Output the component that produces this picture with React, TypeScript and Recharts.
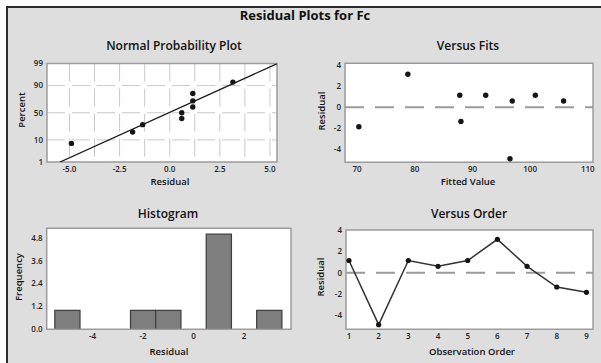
import React from 'react';
import {
  ScatterChart,
  ComposedChart,
  Scatter,
  Line,
  XAxis,
  YAxis,
  CartesianGrid,
  ReferenceLine,
  ReferenceArea,
} from 'recharts';

// ---------------- data ----------------
const observationOrder = [1, 2, 3, 4, 5, 6, 7, 8, 9];
const residuals = [1.15, -4.9, 1.15, 0.6, 1.15, 3.15, 0.6, -1.35, -1.85];
const fittedValues = [87.8, 96.5, 92.3, 96.9, 100.9, 78.8, 105.8, 88.0, 70.3];

// normal probability plot (percent of each sorted residual)
const normalPercent = [7.4, 18.1, 28.7, 39.4, 50, 60.6, 71.3, 81.9, 92.6];
const normalFitMean = -0.05;
const normalFitSigma = 2.33;
const percentTicks = [1, 10, 50, 90, 99];
const percentGrid = [10, 50, 90];
const npResidualTicks = [-5, -2.5, 0, 2.5, 5];
const npResidualGrid = [-5, -3.75, -2.5, -1.25, 0, 1.25, 2.5, 3.75, 5];

// histogram
const binMidpoints = [-5, -4, -3, -2, -1, 0, 1, 2, 3];
const binCounts = [1, 0, 0, 1, 1, 0, 5, 0, 1];
const histXTicks = [-4, -2, 0, 2];
const histYTicks = [0, 1.2, 2.4, 3.6, 4.8];

// versus fits / order
const fitsTicks = [70, 80, 90, 100, 110];
const residualTicks = [-4, -2, 0, 2, 4];

// ---------------- helpers ----------------
function probit(p: number): number {
  const a = [-3.969683028665376e1, 2.209460984245205e2, -2.759285104469687e2, 1.38357751867269e2, -3.066479806614716e1, 2.506628277459239];
  const b = [-5.447609879822406e1, 1.615858368580409e2, -1.556989798598866e2, 6.680131188771972e1, -1.328068155288572e1];
  const c = [-7.784894002430293e-3, -3.223964580411365e-1, -2.400758277161838, -2.549732539343734, 4.374664141464968, 2.938163982698783];
  const d = [7.784695709041462e-3, 3.224671290700398e-1, 2.445134137142996, 3.754408661907416];
  const plow = 0.02425;
  const phigh = 1 - plow;
  if (p < plow) {
    const q = Math.sqrt(-2 * Math.log(p));
    return (((((c[0] * q + c[1]) * q + c[2]) * q + c[3]) * q + c[4]) * q + c[5]) / ((((d[0] * q + d[1]) * q + d[2]) * q + d[3]) * q + 1);
  }
  if (p <= phigh) {
    const q = p - 0.5;
    const r = q * q;
    return ((((((a[0] * r + a[1]) * r + a[2]) * r + a[3]) * r + a[4]) * r + a[5]) * q) / (((((b[0] * r + b[1]) * r + b[2]) * r + b[3]) * r + b[4]) * r + 1);
  }
  const q = Math.sqrt(-2 * Math.log(1 - p));
  return -(((((c[0] * q + c[1]) * q + c[2]) * q + c[3]) * q + c[4]) * q + c[5]) / ((((d[0] * q + d[1]) * q + d[2]) * q + d[3]) * q + 1);
}

const sortedResiduals = [...residuals].sort((x, y) => x - y);
const npData = sortedResiduals.map((r, i) => ({ x: r, y: probit(normalPercent[i] / 100) }));
const zLo = probit(0.01);
const zHi = probit(0.99);
const npFitSegment = [
  { x: normalFitMean + normalFitSigma * zLo, y: zLo },
  { x: normalFitMean + normalFitSigma * zHi, y: zHi },
];
const percentTickZ = percentTicks.map((p) => probit(p / 100));
const percentGridZ = percentGrid.map((p) => probit(p / 100));
const fitsData = fittedValues.map((f, i) => ({ x: f, y: residuals[i] }));
const orderData = observationOrder.map((o, i) => ({ x: o, y: residuals[i] }));
const bins = binMidpoints.map((m, i) => ({ lo: m - 0.5, hi: m + 0.5, count: binCounts[i] })).filter((b) => b.count > 0);

// ---------------- layout ----------------
const W = 601;
const H = 363;
const YW = 30;
const XH = 20;
const FONT = '"Open Sans", "Noto Sans", "DejaVu Sans", sans-serif';
const FRAME = '#9c9c9c';
const tickStyle = { fontSize: 8, fill: '#222', fontFamily: FONT, fontWeight: 600 };

type Box = { x0: number; y0: number; x1: number; y1: number };
const marginFor = (b: Box) => ({ left: b.x0 - YW, top: b.y0, right: W - b.x1, bottom: H - b.y1 - XH });

const npBox: Box = { x0: 47, y0: 63.5, x1: 277, y1: 162 };
const fitsBox: Box = { x0: 345, y0: 63.3, x1: 593, y1: 162.3 };
const histBox: Box = { x0: 46.7, y0: 228.3, x1: 291, y1: 329.3 };
const orderBox: Box = { x0: 346, y0: 230, x1: 593, y1: 329.3 };

const npXDomain: [number, number] = [-6.12, 5.35];
const fitsXDomain: [number, number] = [67.9, 110.9];
const fitsYDomain: [number, number] = [-5.24, 4.19];
const histXDomain: [number, number] = [-5.82, 3.86];
const histYDomain: [number, number] = [0, 5.31];
const orderXDomain: [number, number] = [0.9, 9.22];
const orderYDomain: [number, number] = [-5.34, 4.03];

const Dot = (p: any) => <circle cx={p.cx} cy={p.cy} r={2.7} fill="#151515" />;

const Txt = ({ x, y, size, weight, rotate, children }: any) => (
  <div
    style={{
      position: 'absolute',
      left: x,
      top: y,
      transform: `translate(-50%, -50%)${rotate ? ' rotate(-90deg)' : ''}`,
      fontFamily: FONT,
      fontSize: size,
      fontWeight: weight,
      color: '#111',
      whiteSpace: 'nowrap',
      lineHeight: 1,
    }}
  >
    {children}
  </div>
);

const Layer = ({ children }: any) => (
  <div style={{ position: 'absolute', left: 0, top: 0, width: W, height: H }}>{children}</div>
);

const Frame = ({ xd, yd }: { xd: [number, number]; yd: [number, number] }) => (
  <ReferenceArea x1={xd[0]} x2={xd[1]} y1={yd[0]} y2={yd[1]} fill="none" fillOpacity={0} stroke={FRAME} strokeWidth={1.5} ifOverflow="visible" />
);

export default function App() {
  return (
    <div style={{ position: 'absolute', left: 0, top: 0, width: W, height: H, background: '#fbfbfb', overflow: 'hidden' }}>
      <div
        style={{
          position: 'absolute',
          left: 6,
          top: 6,
          width: W - 6,
          height: H - 6,
          background: '#dedede',
          borderLeft: '2px solid #2b2b2b',
          borderTop: '2px solid #2b2b2b',
          boxSizing: 'border-box',
        }}
      />

      {/* Normal probability plot */}
      <Layer>
        <ScatterChart width={W} height={H} margin={marginFor(npBox)}>
          <CartesianGrid
            fill="#ffffff"
            stroke="#c9c9c9"
            strokeDasharray="18 7"
            verticalValues={npResidualGrid}
            horizontalValues={percentGridZ}
          />
          <XAxis type="number" dataKey="x" domain={npXDomain} allowDataOverflow ticks={npResidualTicks} tickFormatter={(v: number) => v.toFixed(1)} tick={tickStyle} tickLine={false} axisLine={false} tickSize={2} tickMargin={2} height={XH} interval={0} />
          <YAxis type="number" dataKey="y" domain={[zLo, zHi]} allowDataOverflow ticks={percentTickZ} tickFormatter={(v: number) => String(percentTicks[percentTickZ.findIndex((z) => Math.abs(z - v) < 1e-6)] ?? '')} tick={tickStyle} tickLine={false} axisLine={false} tickSize={2} tickMargin={2} width={YW} interval={0} />
          <ReferenceLine segment={npFitSegment} stroke="#1a1a1a" strokeWidth={1.3} ifOverflow="hidden" />
          <Scatter data={npData} shape={Dot} isAnimationActive={false} />
          <Frame xd={npXDomain} yd={[zLo, zHi]} />
        </ScatterChart>
      </Layer>

      {/* Versus fits */}
      <Layer>
        <ScatterChart width={W} height={H} margin={marginFor(fitsBox)}>
          <CartesianGrid fill="#ffffff" horizontal={false} vertical={false} />
          <XAxis type="number" dataKey="x" domain={fitsXDomain} allowDataOverflow ticks={fitsTicks} tick={tickStyle} tickLine={false} axisLine={false} tickSize={2} tickMargin={2} height={XH} interval={0} />
          <YAxis type="number" dataKey="y" domain={fitsYDomain} allowDataOverflow ticks={residualTicks} tick={tickStyle} tickLine={false} axisLine={false} tickSize={2} tickMargin={2} width={YW} interval={0} />
          <ReferenceLine y={0} stroke="#9a9a9a" strokeWidth={2} strokeDasharray="19 11" />
          <Scatter data={fitsData} shape={Dot} isAnimationActive={false} />
          <Frame xd={fitsXDomain} yd={fitsYDomain} />
        </ScatterChart>
      </Layer>

      {/* Histogram */}
      <Layer>
        <ScatterChart width={W} height={H} margin={marginFor(histBox)}>
          <CartesianGrid fill="#ffffff" horizontal={false} vertical={false} />
          <XAxis type="number" dataKey="x" domain={histXDomain} allowDataOverflow ticks={histXTicks} tick={tickStyle} tickLine={false} axisLine={false} tickSize={2} tickMargin={2} height={XH} interval={0} />
          <YAxis type="number" dataKey="y" domain={histYDomain} allowDataOverflow ticks={histYTicks} tickFormatter={(v: number) => v.toFixed(1)} tick={tickStyle} tickLine={false} axisLine={false} tickSize={2} tickMargin={2} width={YW} interval={0} />
          {bins.map((b, i) => (
            <ReferenceArea key={i} x1={b.lo} x2={b.hi} y1={0} y2={b.count} fill="#7e7e7e" fillOpacity={1} stroke="#3e3e3e" strokeWidth={1.2} ifOverflow="visible" />
          ))}
          <Scatter data={[]} isAnimationActive={false} />
          <Frame xd={histXDomain} yd={histYDomain} />
        </ScatterChart>
      </Layer>

      {/* Versus order */}
      <Layer>
        <ComposedChart width={W} height={H} margin={marginFor(orderBox)} data={orderData}>
          <CartesianGrid fill="#ffffff" horizontal={false} vertical={false} />
          <XAxis type="number" dataKey="x" domain={orderXDomain} allowDataOverflow ticks={observationOrder} tick={tickStyle} tickLine={false} axisLine={false} tickSize={2} tickMargin={2} height={XH} interval={0} />
          <YAxis type="number" domain={orderYDomain} allowDataOverflow ticks={residualTicks} tick={tickStyle} tickLine={false} axisLine={false} tickSize={2} tickMargin={2} width={YW} interval={0} />
          <ReferenceLine y={0} stroke="#9a9a9a" strokeWidth={2} strokeDasharray="19 11" />
          <Line dataKey="y" stroke="#333" strokeWidth={1.5} dot={{ r: 2.6, fill: '#151515', stroke: 'none' }} isAnimationActive={false} />
          <Frame xd={orderXDomain} yd={orderYDomain} />
        </ComposedChart>
      </Layer>

      {/* Titles */}
      <Txt x={305} y={15} size={13} weight={700}>Residual Plots for Fc</Txt>
      <Txt x={174} y={46} size={12} weight={600}>Normal Probability Plot</Txt>
      <Txt x={468} y={46} size={12} weight={600}>Versus Fits</Txt>
      <Txt x={168} y={214} size={12} weight={600}>Histogram</Txt>
      <Txt x={469} y={214} size={12} weight={600}>Versus Order</Txt>

      {/* Axis titles */}
      <Txt x={170} y={182} size={9.5} weight={600}>Residual</Txt>
      <Txt x={468} y={182} size={9.5} weight={600}>Fitted Value</Txt>
      <Txt x={169} y={352} size={9.5} weight={600}>Residual</Txt>
      <Txt x={472} y={352} size={9.5} weight={600}>Observation Order</Txt>
      <Txt x={22} y={110} size={9.5} weight={600} rotate>Percent</Txt>
      <Txt x={322} y={111} size={9.5} weight={600} rotate>Residual</Txt>
      <Txt x={19} y={277} size={9.5} weight={600} rotate>Frequency</Txt>
      <Txt x={321} y={277} size={9.5} weight={600} rotate>Residual</Txt>
    </div>
  );
}
